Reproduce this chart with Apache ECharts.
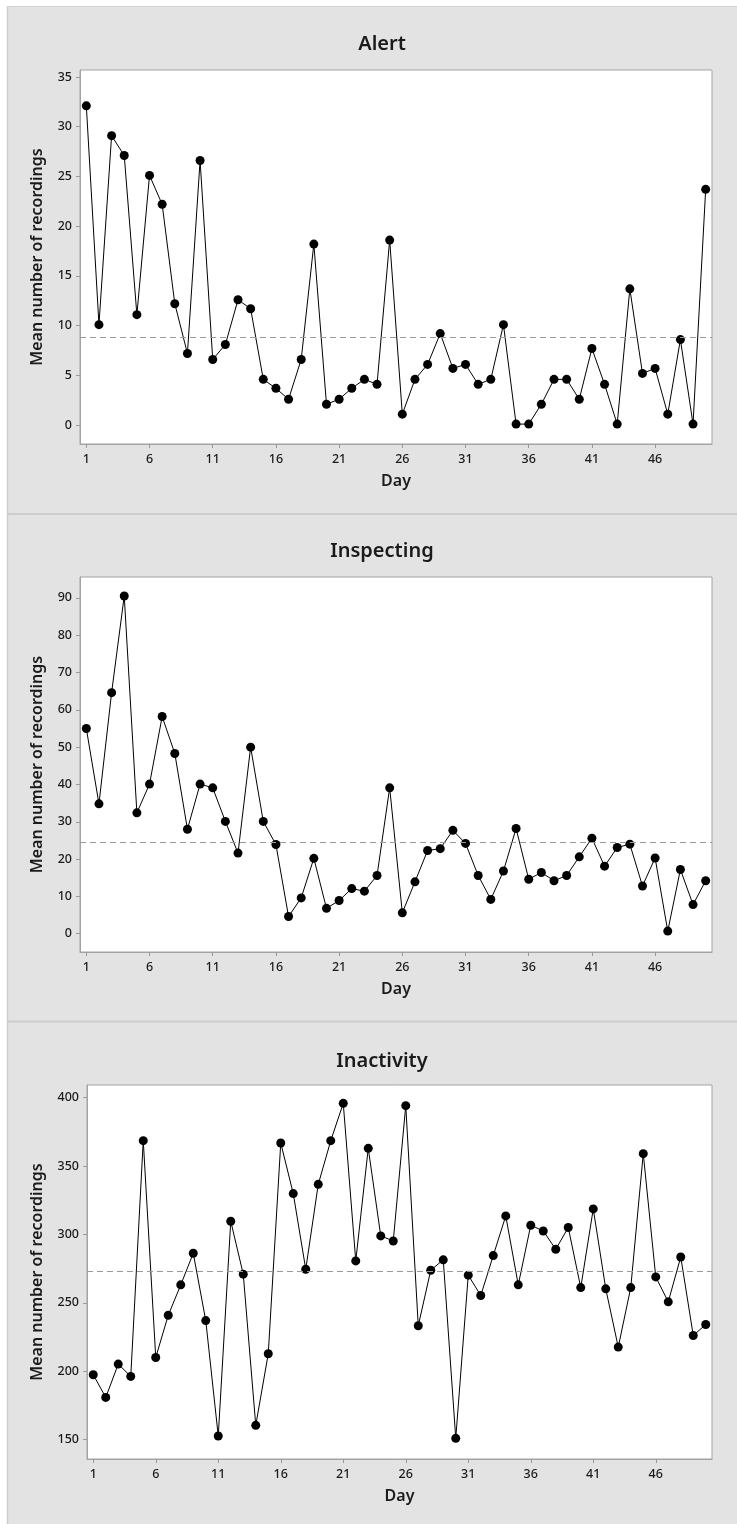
<!DOCTYPE html>
<html>
<head>
<meta charset="utf-8">
<script src="https://cdn.jsdelivr.net/npm/echarts@6/dist/echarts.min.js"></script>
<style>
html,body{margin:0;padding:0;background:#fff;}
#chart{width:737px;height:1524px;}
</style>
</head>
<body>
<div id="chart"></div>
<script>
// ---- data ----
const days = [1,2,3,4,5,6,7,8,9,10,11,12,13,14,15,16,17,18,19,20,21,22,23,24,25,26,27,28,29,30,31,32,33,34,35,36,37,38,39,40,41,42,43,44,45,46,47,48,49,50];
const xTicks = [1,6,11,16,21,26,31,36,41,46];
const titles = ["Alert","Inspecting","Inactivity"];
const alertVals = [32.1,10.1,29.1,27.1,11.1,25.1,22.2,12.2,7.2,26.6,
  6.6,8.1,12.6,11.7,4.6,3.7,2.6,6.6,18.2,2.1,
  2.6,3.7,4.6,4.1,18.6,1.1,4.6,6.1,9.2,5.7,
  6.1,4.1,4.6,10.1,0.1,0.1,2.1,4.6,4.6,2.6,
  7.7,4.1,0.1,13.7,5.2,5.7,1.1,8.6,0.1,23.7];
const inspectingVals = [55.0,34.8,64.6,90.5,32.4,40.1,58.2,48.3,28.0,40.1,
  39.1,30.1,21.6,50.0,30.1,23.9,4.6,9.6,20.2,6.8,
  8.9,12.1,11.4,15.6,39.1,5.6,13.9,22.3,22.8,27.7,
  24.2,15.6,9.2,16.8,28.2,14.6,16.4,14.2,15.6,20.6,
  25.6,18.1,23.1,24.0,12.8,20.3,0.7,17.2,7.8,14.2];
const inactivityVals = [197.5,180.9,205.3,196.3,368.6,210.1,241.0,263.2,286.3,237.1,
  152.7,309.7,271.0,160.5,212.8,366.9,329.9,274.6,336.7,368.6,
  395.9,280.7,363.0,299.0,295.3,394.2,233.3,273.9,281.5,151.0,
  270.3,255.4,284.6,313.6,263.2,306.8,302.6,289.2,305.1,261.2,
  318.7,260.3,217.7,261.2,359.1,269.0,250.8,283.6,226.2,234.2];
const meanVals = [8.87, 24.6, 272.9];
const alertTicks = [0,5,10,15,20,25,30,35];
const inspectingTicks = [0,10,20,30,40,50,60,70,80,90];
const inactivityTicks = [150,200,250,300,350,400];
const yNames = ["Mean number of recordings","Mean number of recordings","Mean number of recordings"];
const xName = "Day";

// ---- layout ----
const seriesVals = [alertVals, inspectingVals, inactivityVals];
const yTicks = [alertTicks, inspectingTicks, inactivityTicks];
const yRange = [[-1.9,35.7],[-4.9,95.6],[135.9,409.3]];
const grids = [
  {left:80, top:70, width:632, height:374},
  {left:80, top:577, width:632, height:375},
  {left:87, top:1085, width:625, height:374}
];
const yNameGap = [35,35,42];
const titleTops = [29, 536, 1046];
const FONT = '"Noto Sans", "Open Sans", sans-serif';
const textColor = '#1b1b1b';

const chart = echarts.init(document.getElementById('chart'), null, {renderer:'canvas'});

const option = {
  backgroundColor: '#ffffff',
  animation: false,
  graphic: [
    {type:'rect', shape:{x:7, y:6, width:730, height:1518}, style:{fill:'#e3e3e3'}, z:-10, silent:true},
    {type:'line', shape:{x1:7.5, y1:6, x2:7.5, y2:1524}, style:{stroke:'#cdcdcd', lineWidth:1.5}, z:-9, silent:true},
    {type:'line', shape:{x1:7, y1:6.5, x2:737, y2:6.5}, style:{stroke:'#d2d2d2', lineWidth:1}, z:-9, silent:true},
    {type:'line', shape:{x1:7, y1:514, x2:737, y2:514}, style:{stroke:'#cdcdcd', lineWidth:2}, z:-9, silent:true},
    {type:'line', shape:{x1:7, y1:1021.5, x2:737, y2:1021.5}, style:{stroke:'#cdcdcd', lineWidth:2}, z:-9, silent:true}
  ],
  title: titles.map((t,i)=>({
    text: t, left: 377, top: titleTops[i], textAlign: 'center',
    textStyle: {fontFamily: FONT, fontSize: 20, fontWeight: 600, color: textColor}
  })),
  grid: grids.map(g=>Object.assign({show:true, backgroundColor:'#ffffff', borderColor:'#a3a3a3', borderWidth:1}, g)),
  xAxis: grids.map((g,i)=>({
    type:'value', gridIndex:i, min:0.5, max:50.5,
    name: xName, nameLocation:'middle', nameGap: 29,
    nameTextStyle:{fontFamily:FONT, fontSize:16, fontWeight:600, color:textColor},
    axisLine:{show:true, onZero:false, lineStyle:{color:'#a3a3a3'}},
    axisTick:{show:true, length:4, lineStyle:{color:'#999'}, customValues: xTicks},
    axisLabel:{fontFamily:FONT, fontSize:12.5, fontWeight:500, color:textColor, margin:9, customValues: xTicks},
    splitLine:{show:false}
  })),
  yAxis: grids.map((g,i)=>({
    type:'value', gridIndex:i, min:yRange[i][0], max:yRange[i][1],
    name: yNames[i], nameLocation:'middle', nameGap: yNameGap[i], nameRotate: 90,
    nameTextStyle:{fontFamily:FONT, fontSize:16, fontWeight:600, color:textColor},
    axisLine:{show:true, onZero:false, lineStyle:{color:'#a3a3a3'}},
    axisTick:{show:true, length:4, lineStyle:{color:'#999'}, customValues: yTicks[i]},
    axisLabel:{fontFamily:FONT, fontSize:12.5, fontWeight:500, color:textColor, margin:8, customValues: yTicks[i]},
    splitLine:{show:false}
  })),
  series: seriesVals.map((vals,i)=>({
    type:'line', xAxisIndex:i, yAxisIndex:i,
    data: days.map((d,k)=>[d, vals[k]]),
    symbol:'circle', symbolSize:9,
    itemStyle:{color:'#000'},
    lineStyle:{color:'#000', width:1},
    markLine:{
      silent:true, symbol:['none','none'], label:{show:false},
      lineStyle:{color:'#9a9a9a', type:[6,4], width:1},
      data:[{yAxis: meanVals[i]}]
    },
    z: 3
  }))
};
chart.setOption(option);
</script>
</body>
</html>
